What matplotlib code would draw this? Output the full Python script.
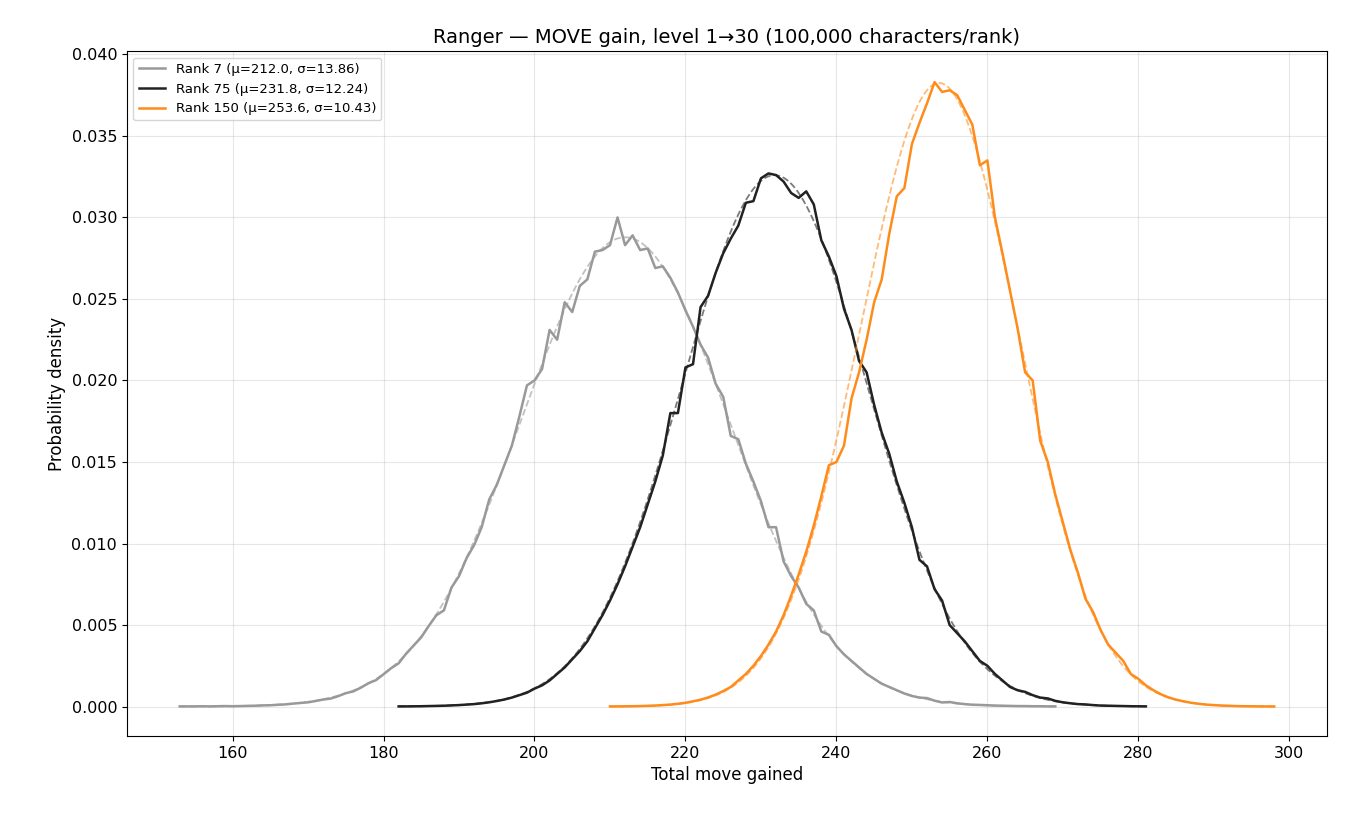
import numpy as np
import matplotlib
matplotlib.use("Agg")
import matplotlib.pyplot as plt

# empirical densities (units of 1e-4)
r7_start = 153
r7_vals = [0.1,0.1,0.1,0.2,0.1,0.2,0.3,0.2,0.3,0.4,0.5,0.7,0.8,1.1,1.3,1.8,2.2,2.6,3.4,4.3,4.9,6.4,8.2,9.3,11.6,14.3,16.2,19.8,23.5,26.5,
           32.5,37.5,42.5,49.5,56,59,73,80,91,99,110,127,136,148,160,178,197,200,207,231,225,248,242,258,262,279,280,283,300,283,
           289,280,281,269,270,263,254,243,233,222,214,198,190,166,164,149,138,126,110,110,89,80,73,63,59,46,44,37,32,28,
           24,20,17,14,12,10,8,6.5,5.5,5.2,3.6,2.5,2.8,2,1.5,1.1,1,0.8,0.6,0.5,0.4,0.3,0.3,0.2,0.2,0.1,0.1]
r75_start = 182
r75_vals = [.1,.1,.15,.2,.3,.4,.5,.7,.9,1.2,1.5,2,2.6,3.4,4.3,5.5,7,8.5,11,13,16,20,24,29,34,40,48,56,
            65,75,86,98,110,124,138,154,180,180,208,210,245,252,266,278,287,295,309,310,324,327,326,
            322,315,312,316,308,286,276,264,244,231,212,205,185,168,155,138,125,110,90,86,72,65,50,45,40,34,28,25,20,
            16,12,10,9,7,5.5,5,3.5,2.6,2,1.5,1.3,.9,.6,.5,.4,.3,.2,.15,.1]
r150_start = 210
r150_vals = [.07,.1,.15,.2,.3,.45,.6,.9,1.2,1.7,2.3,3.2,4.2,5.6,7.3,9.5,12,16,20,25,31,38,46,56,68,81,95,111,129,148,
             150,160,189,205,225,248,262,290,313,318,345,358,370,383,
             377,378,375,366,357,332,335,300,278,255,232,205,200,163,150,130,113,96,82,66,58,47,38,33,28,20,17,13,10,7.5,
             5.6,4.2,3.2,2.3,1.7,1.2,.9,.6,.45,.3,.2,.15,.1,.07,.05]

labels = ["Rank 7 (μ=212.0, σ=13.86)", "Rank 75 (μ=231.8, σ=12.24)", "Rank 150 (μ=253.6, σ=10.43)"]
mus = [212.0, 231.8, 253.6]
sigmas = [13.86, 12.24, 10.43]
colors = ["#999999", "#222222", "#ff8c1a"]

fig, ax = plt.subplots(figsize=(13.5, 8.25), dpi=100)
series = [(r7_start, r7_vals), (r75_start, r75_vals), (r150_start, r150_vals)]
for (s, v), lab, mu, sg, c in zip(series, labels, mus, sigmas, colors):
    x = np.arange(s, s + len(v))
    y = np.array(v) * 1e-4
    ax.plot(x, y, color=c, lw=1.8, label=lab)
    xf = np.linspace(x[0], x[-1], 400)
    yf = np.exp(-(xf - mu) ** 2 / (2 * sg ** 2)) / (sg * np.sqrt(2 * np.pi))
    ax.plot(xf, yf, color=c, lw=1.3, ls="--", alpha=0.6)

ax.set_xlim(146, 305)
ax.set_ylim(-0.0018, 0.0402)
ax.set_yticks(np.arange(0, 0.0401, 0.005))
ax.yaxis.set_major_formatter(matplotlib.ticker.FormatStrFormatter("%.3f"))
ax.grid(True, alpha=0.3)
ax.tick_params(labelsize=11.5)
ax.set_xlabel("Total move gained", fontsize=12)
ax.set_ylabel("Probability density", fontsize=12)
ax.set_title("Ranger — MOVE gain, level 1→30 (100,000 characters/rank)", fontsize=14)
ax.legend(loc="upper left", fontsize=9.5)
fig.subplots_adjust(left=0.094, right=0.983, top=0.938, bottom=0.108)
fig.savefig("out.png")
